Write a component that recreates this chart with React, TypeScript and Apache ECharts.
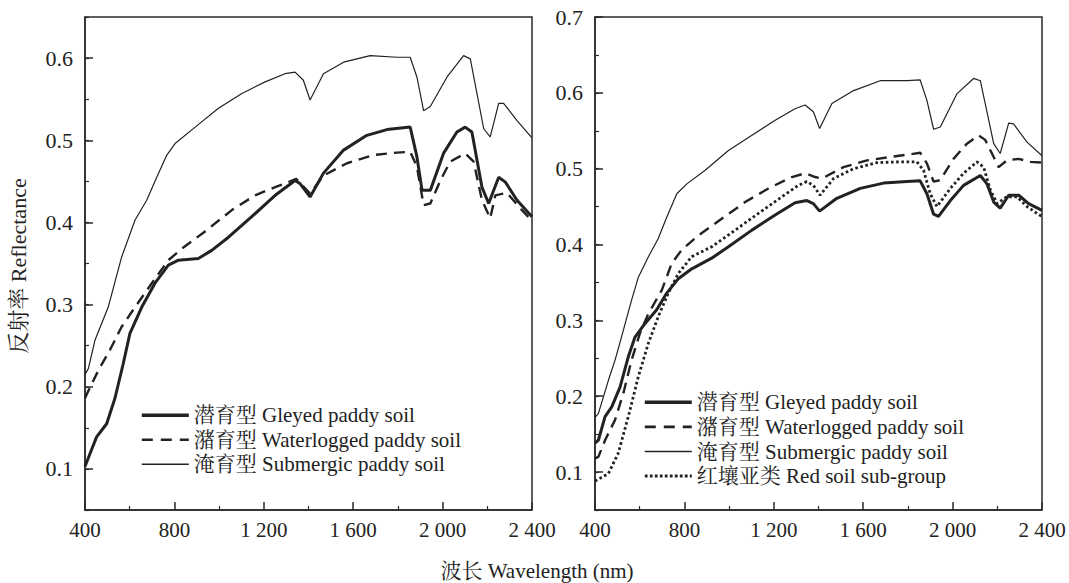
import React, { useEffect, useRef } from "react";
import * as echarts from "echarts";

// ---------- Data (wavelength nm / reflectance) ----------
const NAME_GLEYED = "潜育型 Gleyed paddy soil";
const NAME_WATER = "潴育型 Waterlogged paddy soil";
const NAME_SUB = "淹育型 Submergic paddy soil";
const NAME_RED = "红壤亚类 Red soil sub-group";

// Left panel
const L_GLEY_WL = [400, 420, 452, 497, 534, 571, 601, 654, 713, 773, 818, 907, 967, 1042, 1146, 1251, 1340, 1363, 1407, 1467, 1557, 1661, 1751, 1855, 1885, 1908, 1945, 2004, 2064, 2101, 2131, 2176, 2206, 2251, 2281, 2333, 2400];
const L_GLEY_R = [0.103, 0.117, 0.139, 0.155, 0.186, 0.228, 0.265, 0.297, 0.326, 0.348, 0.354, 0.356, 0.366, 0.382, 0.407, 0.433, 0.451, 0.447, 0.431, 0.46, 0.488, 0.506, 0.513, 0.516, 0.48, 0.439, 0.439, 0.484, 0.51, 0.516, 0.51, 0.443, 0.423, 0.455, 0.449, 0.427, 0.407];

const L_WATER_WL = [400, 415, 460, 512, 564, 624, 699, 773, 833, 937, 1057, 1161, 1251, 1310, 1345, 1407, 1467, 1572, 1691, 1796, 1855, 1885, 1915, 1945, 1990, 2034, 2101, 2139, 2176, 2213, 2236, 2288, 2348, 2400];
const L_WATER_R = [0.186, 0.195, 0.22, 0.245, 0.273, 0.297, 0.326, 0.354, 0.368, 0.389, 0.415, 0.433, 0.443, 0.449, 0.453, 0.435, 0.457, 0.472, 0.482, 0.485, 0.486, 0.468, 0.421, 0.423, 0.451, 0.474, 0.484, 0.474, 0.427, 0.405, 0.433, 0.436, 0.417, 0.402];

const L_SUB_WL = [400, 415, 445, 504, 564, 624, 676, 721, 766, 803, 893, 997, 1102, 1206, 1295, 1340, 1377, 1407, 1467, 1557, 1676, 1796, 1855, 1885, 1915, 1945, 2020, 2094, 2124, 2184, 2213, 2251, 2273, 2333, 2400];
const L_SUB_R = [0.215, 0.222, 0.257, 0.297, 0.358, 0.403, 0.427, 0.455, 0.482, 0.496, 0.516, 0.539, 0.557, 0.571, 0.581, 0.583, 0.573, 0.549, 0.581, 0.595, 0.603, 0.601, 0.601, 0.577, 0.536, 0.541, 0.577, 0.603, 0.599, 0.514, 0.504, 0.545, 0.545, 0.524, 0.503];

// Right panel
const R_GLEY_WL = [400, 415, 445, 475, 512, 549, 579, 624, 676, 721, 773, 833, 922, 997, 1102, 1206, 1295, 1348, 1377, 1405, 1482, 1587, 1691, 1796, 1855, 1885, 1915, 1937, 1990, 2049, 2124, 2154, 2184, 2213, 2251, 2296, 2340, 2400];
const R_GLEY_R = [0.138, 0.142, 0.173, 0.186, 0.212, 0.252, 0.278, 0.296, 0.314, 0.336, 0.355, 0.368, 0.382, 0.397, 0.419, 0.439, 0.455, 0.458, 0.454, 0.444, 0.461, 0.474, 0.481, 0.483, 0.484, 0.467, 0.44, 0.437, 0.458, 0.478, 0.491, 0.48, 0.456, 0.448, 0.465, 0.465, 0.454, 0.445];

const R_WATER_WL = [400, 415, 445, 490, 527, 564, 601, 639, 699, 743, 788, 863, 967, 1072, 1176, 1281, 1340, 1385, 1415, 1512, 1617, 1736, 1810, 1855, 1885, 1915, 1945, 2004, 2064, 2116, 2146, 2176, 2206, 2243, 2296, 2348, 2400];
const R_WATER_R = [0.118, 0.12, 0.142, 0.169, 0.204, 0.248, 0.283, 0.309, 0.34, 0.375, 0.393, 0.412, 0.434, 0.456, 0.474, 0.489, 0.494, 0.489, 0.487, 0.502, 0.511, 0.516, 0.519, 0.521, 0.507, 0.483, 0.485, 0.513, 0.533, 0.544, 0.538, 0.52, 0.502, 0.511, 0.513, 0.509, 0.508];

const R_SUB_WL = [400, 415, 460, 490, 512, 564, 594, 639, 683, 721, 766, 811, 893, 997, 1102, 1206, 1295, 1340, 1377, 1405, 1460, 1557, 1676, 1796, 1855, 1885, 1915, 1945, 2020, 2094, 2124, 2184, 2213, 2251, 2273, 2333, 2400];
const R_SUB_R = [0.172, 0.177, 0.221, 0.248, 0.271, 0.327, 0.357, 0.384, 0.408, 0.436, 0.467, 0.48, 0.498, 0.524, 0.544, 0.564, 0.579, 0.584, 0.575, 0.553, 0.586, 0.603, 0.616, 0.616, 0.617, 0.59, 0.552, 0.555, 0.599, 0.619, 0.616, 0.533, 0.52, 0.56, 0.559, 0.535, 0.517];

const R_RED_WL = [400, 460, 504, 549, 594, 639, 683, 728, 773, 833, 922, 1027, 1131, 1236, 1310, 1348, 1377, 1407, 1467, 1557, 1661, 1766, 1840, 1870, 1900, 1930, 1990, 2049, 2109, 2139, 2169, 2199, 2243, 2288, 2333, 2378, 2400];
const R_RED_R = [0.088, 0.098, 0.125, 0.173, 0.226, 0.27, 0.305, 0.336, 0.362, 0.384, 0.397, 0.419, 0.441, 0.463, 0.478, 0.483, 0.478, 0.465, 0.487, 0.5, 0.508, 0.509, 0.509, 0.498, 0.467, 0.45, 0.474, 0.494, 0.509, 0.502, 0.472, 0.454, 0.463, 0.463, 0.45, 0.441, 0.437];

// Axis ticks
const X_MIN = 400;
const X_MAX = 2400;
const X_STEP = 400;
const L_Y_MIN = 0.05;
const L_Y_MAX = 0.65;
const L_Y_LABELS = [0.1, 0.2, 0.3, 0.4, 0.5, 0.6];
const R_Y_MIN = 0.05;
const R_Y_MAX = 0.7;
const R_Y_LABELS = [0.1, 0.2, 0.3, 0.4, 0.5, 0.6, 0.7];

const X_TITLE = "波长 Wavelength (nm)";
const Y_TITLE = "反射率 Reflectance";

// ---------- Styles ----------
const FONT = '"Liberation Serif", "Times New Roman", "Noto Serif CJK SC", "Noto Sans CJK SC", serif';
const INK = "#222";
const FRAME = "#2a2a2a";

const zip = (xs: number[], ys: number[]) => xs.map((x, i) => [x, ys[i]]);

const fmtX = (v: number) => {
  if (v >= 1000) {
    const s = String(v);
    return s.slice(0, s.length - 3) + " " + s.slice(s.length - 3);
  }
  return String(v);
};

const STYLE: Record<string, any> = {
  [NAME_GLEYED]: { width: 3, type: "solid" },
  [NAME_WATER]: { width: 2.4, type: [11, 7] },
  [NAME_SUB]: { width: 1.2, type: "solid" },
  [NAME_RED]: { width: 2.8, type: [2.6, 2.6] },
};

const LEGEND_STYLE: Record<string, any> = {
  [NAME_GLEYED]: { width: 3.6, type: "solid" },
  [NAME_WATER]: { width: 2.6, type: [11, 8] },
  [NAME_SUB]: { width: 1.3, type: "solid" },
  [NAME_RED]: { width: 3, type: [2.8, 2.2] },
};

function makeSeries(name: string, xi: number, yi: number, data: number[][]) {
  return {
    type: "line",
    name,
    xAxisIndex: xi,
    yAxisIndex: yi,
    data,
    symbol: "none",
    showSymbol: false,
    smooth: false,
    lineStyle: { color: INK, ...STYLE[name] },
    itemStyle: { color: INK },
    z: 3,
  };
}

function makeX(gridIndex: number) {
  return {
    type: "value",
    gridIndex,
    min: X_MIN,
    max: X_MAX,
    interval: X_STEP,
    axisLine: { show: true, lineStyle: { color: FRAME, width: 1.5 } },
    axisTick: { show: true, inside: true, length: 8, lineStyle: { color: FRAME, width: 1.5 } },
    minorTick: { show: true, splitNumber: 2, length: 4, lineStyle: { color: FRAME, width: 1.2 } },
    splitLine: { show: false },
    axisLabel: {
      show: true,
      margin: 9,
      formatter: fmtX,
      color: INK,
      fontSize: 21,
      fontFamily: FONT,
    },
  };
}

function makeYMajor(gridIndex: number, min: number, max: number, labels: number[]) {
  return {
    type: "value",
    gridIndex,
    min,
    max,
    axisLine: { show: true, lineStyle: { color: FRAME, width: 1.5 } },
    axisTick: { show: true, inside: true, length: 8, customValues: labels, lineStyle: { color: FRAME, width: 1.5 } },
    splitLine: { show: false },
    axisLabel: {
      show: true,
      customValues: labels,
      margin: 12,
      formatter: (v: number) => v.toFixed(1),
      color: INK,
      fontSize: 22,
      fontFamily: FONT,
    },
  };
}

function makeYMinor(gridIndex: number, min: number, max: number) {
  return {
    type: "value",
    gridIndex,
    min,
    max,
    interval: 0.05,
    position: "left",
    axisLine: { show: false },
    axisTick: { show: true, inside: true, length: 4, lineStyle: { color: FRAME, width: 1.2 } },
    splitLine: { show: false },
    axisLabel: { show: false },
  };
}

const legendItems = (names: string[]) =>
  names.map((name) => ({
    name,
    lineStyle: { color: INK, ...LEGEND_STYLE[name] },
  }));

const legendBase = {
  orient: "vertical",
  itemWidth: 47,
  itemHeight: 4,
  itemGap: 0,
  selectedMode: false,
  itemStyle: { opacity: 0, borderWidth: 0 },
};

const App: React.FC = () => {
  const ref = useRef<HTMLDivElement>(null);

  useEffect(() => {
    if (!ref.current) return;
    const chart = echarts.init(ref.current, undefined, { renderer: "svg" });
    const gridBox = { show: true, borderColor: FRAME, borderWidth: 1.5, backgroundColor: "transparent" };

    const option: any = {
      animation: false,
      backgroundColor: "#ffffff",
      grid: [
        { left: 85, top: 17, width: 447, height: 493, containLabel: false, ...gridBox },
        { left: 595, top: 17, width: 447, height: 493, containLabel: false, ...gridBox },
      ],
      xAxis: [makeX(0), makeX(1)],
      yAxis: [
        makeYMajor(0, L_Y_MIN, L_Y_MAX, L_Y_LABELS),
        makeYMinor(0, L_Y_MIN, L_Y_MAX),
        makeYMajor(1, R_Y_MIN, R_Y_MAX, R_Y_LABELS),
        makeYMinor(1, R_Y_MIN, R_Y_MAX),
      ],
      legend: [
        {
          ...legendBase,
          left: 135,
          top: 398,
          data: legendItems([NAME_GLEYED, NAME_WATER, NAME_SUB]),
          textStyle: { color: INK, fontSize: 21, fontFamily: FONT, lineHeight: 24.5 },
        },
        {
          ...legendBase,
          left: 638,
          top: 385,
          data: legendItems([NAME_GLEYED, NAME_WATER, NAME_SUB, NAME_RED]),
          textStyle: { color: INK, fontSize: 21, fontFamily: FONT, lineHeight: 24.6 },
        },
      ],
      series: [
        makeSeries(NAME_GLEYED, 0, 0, zip(L_GLEY_WL, L_GLEY_R)),
        makeSeries(NAME_WATER, 0, 0, zip(L_WATER_WL, L_WATER_R)),
        makeSeries(NAME_SUB, 0, 0, zip(L_SUB_WL, L_SUB_R)),
        makeSeries(NAME_GLEYED, 1, 2, zip(R_GLEY_WL, R_GLEY_R)),
        makeSeries(NAME_WATER, 1, 2, zip(R_WATER_WL, R_WATER_R)),
        makeSeries(NAME_SUB, 1, 2, zip(R_SUB_WL, R_SUB_R)),
        makeSeries(NAME_RED, 1, 2, zip(R_RED_WL, R_RED_R)),
      ],
      graphic: [
        {
          type: "text",
          x: 18,
          y: 266,
          rotation: Math.PI / 2,
          style: {
            text: Y_TITLE,
            fill: INK,
            font: `22px ${FONT}`,
            textAlign: "center",
            textVerticalAlign: "middle",
          },
        },
        {
          type: "text",
          x: 537,
          y: 571,
          style: {
            text: X_TITLE,
            fill: INK,
            font: `21px ${FONT}`,
            textAlign: "center",
            textVerticalAlign: "middle",
          },
        },
      ],
    };

    chart.setOption(option);
    return () => chart.dispose();
  }, []);

  return (
    <div
      ref={ref}
      style={{ position: "fixed", left: 0, top: 0, width: 1069, height: 583, background: "#fff" }}
    />
  );
};

export default App;
